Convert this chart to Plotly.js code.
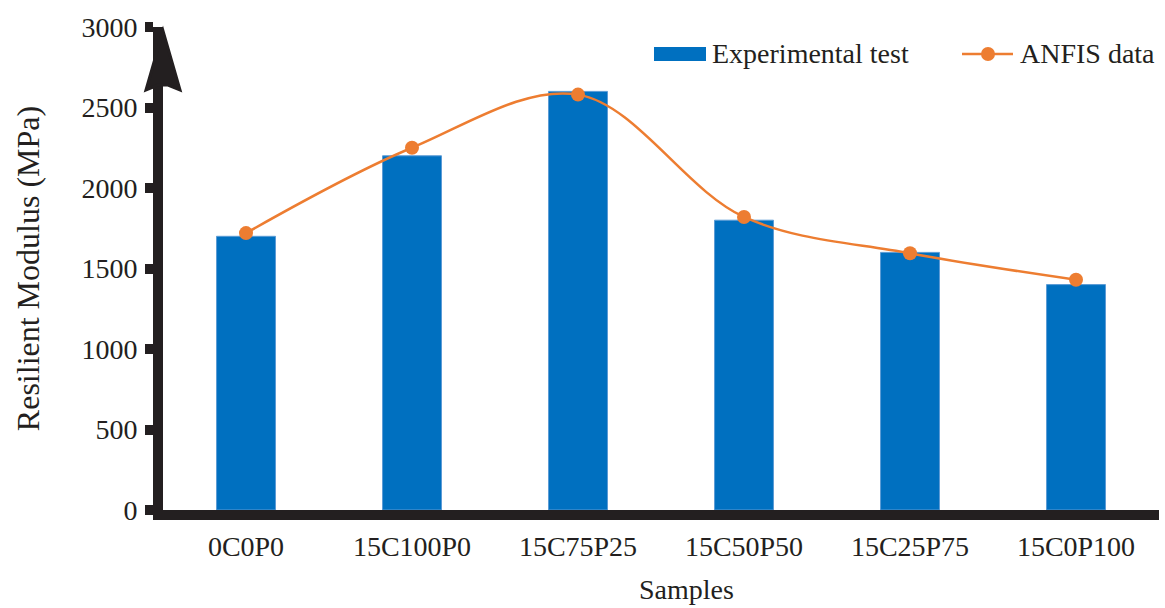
<!DOCTYPE html>
<html>
<head>
<meta charset="utf-8">
<script src="https://cdn.plot.ly/plotly-3.0.1.min.js"></script>
<style>html,body{margin:0;padding:0;background:#fff;}#chart{width:1165px;height:608px;}</style>
</head>
<body>
<div id="chart"></div>
<script>
// ---- data ----
const categories = ["0C0P0", "15C100P0", "15C75P25", "15C50P50", "15C25P75", "15C0P100"];
const experimental = [1700, 2200, 2600, 1800, 1600, 1400];
const anfis = [1720, 2250, 2580, 1820, 1595, 1430];
const yTickVals = [0, 500, 1000, 1500, 2000, 2500, 3000];
const seriesNames = ["Experimental test", "ANFIS data"];

// ---- style constants ----
const W = 1165, H = 608;
const M = {l: 163, r: 6, t: 27, b: 98};
const pw = W - M.l - M.r, ph = H - M.t - M.b;
const ink = "#231f20";
const barColor = "#0070c0";
const lineColor = "#ed7d31";
const fontFam = "'Liberation Serif', 'Times New Roman', serif";

function px(x) { return +((x - M.l) / pw).toFixed(5); }
function py(y) { return +((H - M.b - y) / ph).toFixed(5); }

const arrowPath = "M" + px(163) + "," + py(31) +
  " L" + px(180) + "," + py(90) +
  " L" + px(168) + "," + py(85) +
  " L" + px(158) + "," + py(85) +
  " L" + px(146) + "," + py(90) + " Z";

const traces = [
  {
    type: "bar",
    name: seriesNames[0],
    x: categories,
    y: experimental,
    marker: {color: barColor, line: {color: "#5b9bd5", width: 1}},
    showlegend: false
  },
  {
    type: "scatter",
    mode: "lines+markers",
    name: seriesNames[1],
    x: categories,
    y: anfis,
    line: {color: lineColor, width: 2.5, shape: "spline", smoothing: 1},
    marker: {color: lineColor, size: 14},
    showlegend: false
  }
];

// legend drawn as shapes + text (wide bar swatch like the original)
const legendShapes = [
  {type: "rect", xref: "paper", yref: "paper", layer: "above",
   x0: px(654), x1: px(706), y0: py(61), y1: py(47),
   fillcolor: barColor, line: {width: 0}},
  {type: "line", xref: "paper", yref: "paper", layer: "above",
   x0: px(962), x1: px(1013), y0: py(54), y1: py(54),
   line: {color: lineColor, width: 2.5}},
  {type: "circle", xref: "paper", yref: "paper", layer: "above",
   x0: px(981), x1: px(995), y0: py(61), y1: py(47),
   fillcolor: lineColor, line: {width: 0}}
];
const legendTexts = [
  {text: seriesNames[0], xref: "paper", yref: "paper", x: px(710), y: py(54),
   xanchor: "left", yanchor: "middle", showarrow: false,
   font: {family: fontFam, size: 28, color: ink}},
  {text: seriesNames[1], xref: "paper", yref: "paper", x: px(1018), y: py(54),
   xanchor: "left", yanchor: "middle", showarrow: false,
   font: {family: fontFam, size: 28, color: ink}}
];

const layout = {
  width: W, height: H,
  margin: M,
  paper_bgcolor: "#ffffff",
  plot_bgcolor: "#ffffff",
  font: {family: fontFam, color: ink, size: 28},
  bargap: 0.645,
  showlegend: false,
  xaxis: {
    type: "category",
    range: [-0.5, 5.5],
    showline: true, linecolor: ink, linewidth: 10,
    ticks: "", showgrid: false, zeroline: false,
    tickfont: {family: fontFam, size: 28, color: ink},
    ticklabelstandoff: 2,
    fixedrange: true
  },
  yaxis: {
    range: [0, 3000],
    tickvals: yTickVals,
    ticktext: yTickVals.map(String),
    showline: true, linecolor: ink, linewidth: 10,
    ticks: "outside", ticklen: 8, tickwidth: 10, tickcolor: ink,
    showgrid: false, zeroline: false,
    tickfont: {family: fontFam, size: 28, color: ink},
    ticklabelstandoff: 2,
    title: {text: "Resilient Modulus (MPa)", font: {family: fontFam, size: 32, color: ink}, standoff: 36},
    fixedrange: true
  },
  shapes: [
    {
      type: "path", xref: "paper", yref: "paper", layer: "above",
      path: arrowPath,
      fillcolor: ink,
      line: {color: ink, width: 3}
    }
  ].concat(legendShapes),
  annotations: [
    {
      text: "Samples", xref: "paper", yref: "paper",
      x: px(687), y: py(590), xanchor: "center", yanchor: "middle",
      showarrow: false,
      font: {family: fontFam, size: 28, color: ink}
    }
  ].concat(legendTexts)
};

Plotly.newPlot("chart", traces, layout, {displayModeBar: false, staticPlot: true});
</script>
</body>
</html>
